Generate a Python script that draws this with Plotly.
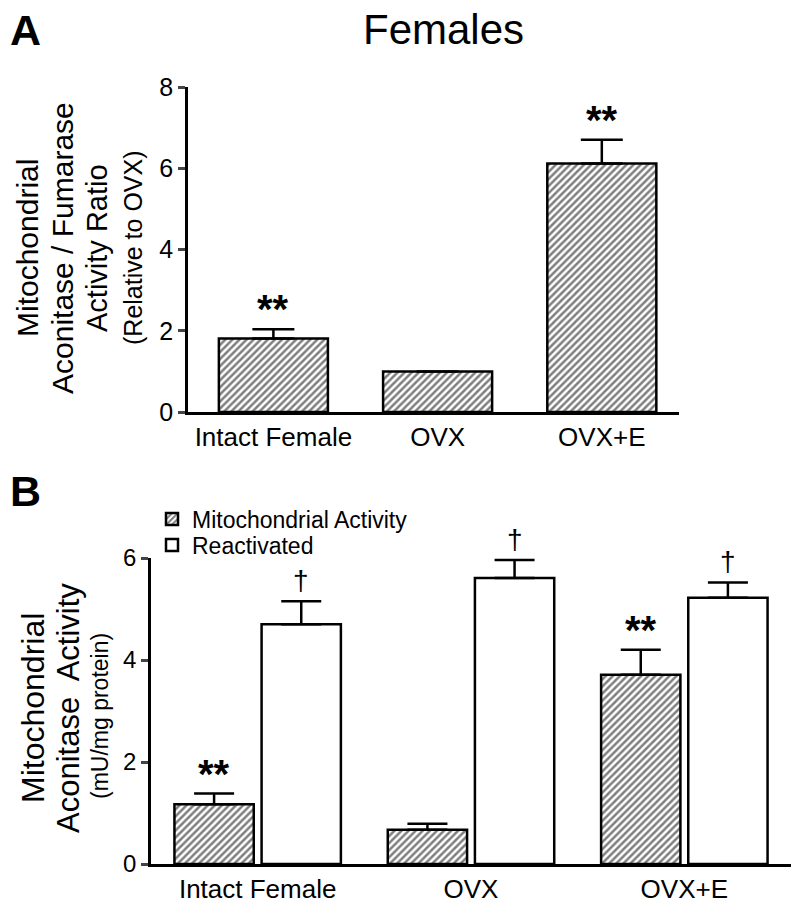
import plotly.graph_objects as go

# data
groups = ["Intact Female", "OVX", "OVX+E"]

# panel A: aconitase / fumarase ratio (relative to OVX)
ratio_mean = [1.81, 1.0, 6.12]
ratio_err = [0.23, None, 0.58]
ratio_sig = ["**", "", "**"]

# panel B: aconitase activity (mU/mg protein)
mito_mean = [1.17, 0.67, 3.71]
mito_err = [0.21, 0.12, 0.49]
mito_sig = ["**", "", "**"]

react_mean = [4.70, 5.61, 5.22]
react_err = [0.45, 0.35, 0.30]
react_sig = ["\u2020", "\u2020", "\u2020"]

FONT = "Liberation Sans, Arial, Helvetica, sans-serif"
W, H = 800, 914


def px_x(p):
    return p / W


def px_y(p):
    return 1 - p / H


hatch = dict(shape="/", fgcolor="black", bgcolor="white", size=5, solidity=0.5)
outline = dict(color="black", width=2.5)

fig = go.Figure()

fig.add_trace(go.Bar(
    x=groups, y=ratio_mean, width=0.664,
    marker=dict(color="white", pattern=hatch, line=outline),
    error_y=dict(type="data", symmetric=False, array=ratio_err,
                 arrayminus=[0, 0, 0], color="black", thickness=2.5, width=21),
    showlegend=False, xaxis="x", yaxis="y",
))

fig.add_trace(go.Bar(
    x=groups, y=mito_mean, name="Mitochondrial Activity",
    marker=dict(color="white", pattern=hatch, line=outline),
    error_y=dict(type="data", symmetric=False, array=mito_err,
                 arrayminus=[0, 0, 0], color="black", thickness=2.5, width=20),
    xaxis="x2", yaxis="y2", legend="legend",
))
fig.add_trace(go.Bar(
    x=groups, y=react_mean, name="Reactivated",
    marker=dict(color="white", line=outline),
    error_y=dict(type="data", symmetric=False, array=react_err,
                 arrayminus=[0, 0, 0], color="black", thickness=2.5, width=20),
    xaxis="x2", yaxis="y2", legend="legend2",
))

axis_common = dict(showgrid=False, zeroline=False, showline=True, automargin=False,
                   linecolor="black", linewidth=2.5)

annotations = []
star_font = dict(size=40, family=FONT, color="black")
dag_font = dict(size=28, family=FONT, color="black")

# significance markers
for i, (m, e, s) in enumerate(zip(ratio_mean, ratio_err, ratio_sig)):
    if s:
        annotations.append(dict(x=i, y=m + (e or 0), xref="x", yref="y", text="<b>" + s + "</b>",
                                xanchor="center", yanchor="bottom", yshift=-4, font=star_font))
for i, (m, e, s) in enumerate(zip(mito_mean, mito_err, mito_sig)):
    if s:
        annotations.append(dict(x=i - 0.204, y=m + e, xref="x2", yref="y2", text="<b>" + s + "</b>",
                                xanchor="center", yanchor="bottom", yshift=-4, font=star_font))
for i, (m, e, s) in enumerate(zip(react_mean, react_err, react_sig)):
    if s:
        annotations.append(dict(x=i + 0.204, y=m + e, xref="x2", yref="y2", text=s,
                                xanchor="center", yanchor="bottom", yshift=3, font=dag_font))

# panel letters and title
annotations += [
    dict(x=px_x(25), y=px_y(30), text="<b>A</b>",
         font=dict(size=43, family=FONT, color="black")),
    dict(x=px_x(25), y=px_y(491), text="<b>B</b>",
         font=dict(size=43, family=FONT, color="black")),
    dict(x=px_x(443), y=px_y(30), text="Females",
         font=dict(size=42, family=FONT, color="black")),
]

# rotated y titles, one line each
ytitle_a = [("Mitochondrial", 27, 30), ("Aconitase / Fumarase", 62, 30),
            ("Activity Ratio", 97, 29), ("(Relative to OVX)", 133, 25)]
for txt, xc, fs in ytitle_a:
    annotations.append(dict(x=px_x(xc), y=px_y(248), text=txt, textangle=-90,
                            font=dict(size=fs, family=FONT, color="black")))
ytitle_b = [("Mitochondrial", 33, 32, 708), ("Aconitase\u00a0 Activity", 68, 31, 708),
            ("(mU/mg protein)", 100, 23, 716)]
for txt, xc, fs, yc in ytitle_b:
    annotations.append(dict(x=px_x(xc), y=px_y(yc), text=txt, textangle=-90,
                            font=dict(size=fs, family=FONT, color="black")))

for a in annotations:
    a.setdefault("xref", "paper")
    a.setdefault("yref", "paper")
    a.setdefault("xanchor", "center")
    a.setdefault("yanchor", "middle")
    a["showarrow"] = False

legend_common = dict(xanchor="left", yanchor="middle", bgcolor="rgba(0,0,0,0)",
                     font=dict(size=23, family=FONT), itemwidth=30)

fig.update_layout(
    width=W, height=H,
    margin=dict(l=0, r=0, t=0, b=0, pad=0, autoexpand=False),
    paper_bgcolor="white", plot_bgcolor="white",
    font=dict(family=FONT, color="black"),
    barmode="group", bargap=0.183, bargroupgap=0.09,
    xaxis=dict(domain=[px_x(188), px_x(679)], anchor="y", range=[-0.52, 2.47],
               ticks="", tickfont=dict(size=26), **axis_common),
    yaxis=dict(domain=[px_y(412), px_y(87)], anchor="x", range=[0, 8],
               tickvals=[0, 2, 4, 6, 8], ticks="outside", ticklen=7, tickwidth=2.5,
               tickfont=dict(size=25), **axis_common),
    xaxis2=dict(domain=[px_x(151), px_x(791)], anchor="y2", range=[-0.5, 2.5],
                ticks="", tickfont=dict(size=26), **axis_common),
    yaxis2=dict(domain=[px_y(864), px_y(558)], anchor="x2", range=[0, 6],
                tickvals=[0, 2, 4, 6], ticks="outside", ticklen=7, tickwidth=2.5,
                tickfont=dict(size=24), **axis_common),
    legend=dict(x=px_x(152), y=px_y(519), **legend_common),
    legend2=dict(x=px_x(152), y=px_y(545), **legend_common),
    annotations=annotations,
)

# drop the browser's default body margin so the figure sits at the page corner
fig.write_html("out.html", config={"displayModeBar": False},
               post_script="document.body.style.margin='0px';")
